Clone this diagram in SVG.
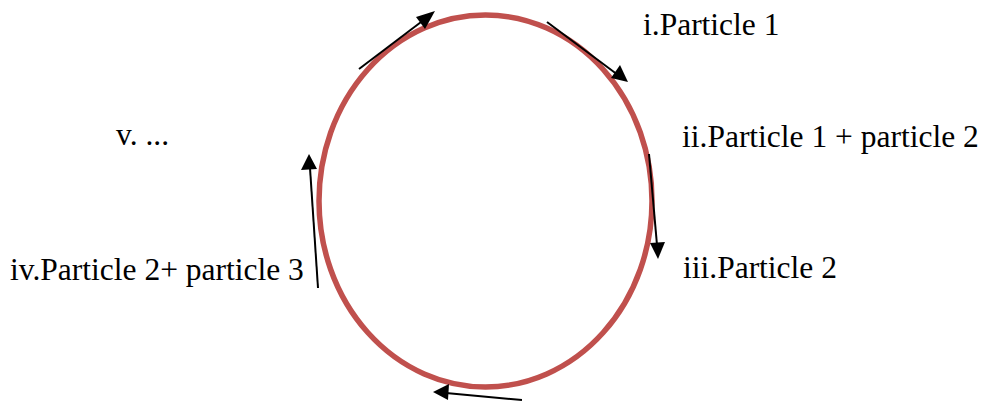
<svg xmlns="http://www.w3.org/2000/svg" width="988" height="401" viewBox="0 0 988 401">
<defs>
<style>
text{font-family:"Liberation Serif","DejaVu Serif",serif;font-size:31.5px;fill:#000}
.ln{stroke:#000;stroke-width:2;fill:none}
</style>
</defs>
<rect width="988" height="401" fill="#fff"/>
<g id="ring"><ellipse cx="485.5" cy="201" rx="166.5" ry="186" fill="none" stroke="#C0504D" stroke-width="5.5"/></g>
<g id="connectors">
<path class="ln" d="M359,69 L425,19"/>
<path d="M435,11 L416,17 L425,29 z" fill="#000"/>
<path class="ln" d="M547,22 L618,75"/>
<path d="M628,82 L620,65 L611,78 z" fill="#000"/>
<path class="ln" d="M649,154 L657,245"/>
<path d="M658,259 L650,243 L665,242 z" fill="#000"/>
<path class="ln" d="M318,288 L310,168"/>
<path d="M309,154 L301,170 L317,169 z" fill="#000"/>
<path class="ln" d="M522,400 L446,393"/>
<path d="M433,392 L449,384 L448,400 z" fill="#000"/>
</g>
<g id="n1"><text x="643" y="35">i.Particle 1</text></g>
<g id="n2"><text x="682" y="147">ii.Particle 1 + particle 2</text></g>
<g id="n3"><text x="683" y="278">iii.Particle 2</text></g>
<g id="n4"><text x="10" y="280">iv.Particle 2+ particle 3</text></g>
<g id="n5"><text x="116" y="145">v. ...</text></g>
</svg>
